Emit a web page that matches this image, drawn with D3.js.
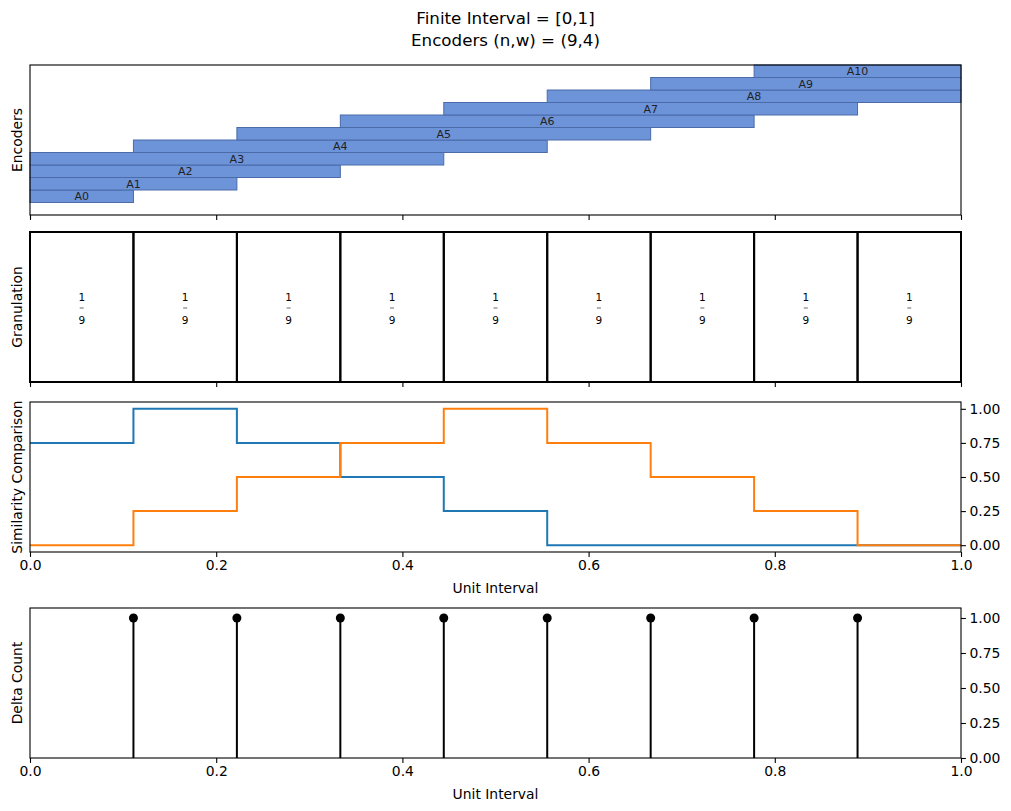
<!DOCTYPE html>
<html>
<head>
<meta charset="utf-8">
<script src="https://cdn.jsdelivr.net/npm/d3@7"></script>
<style>
  body { margin: 0; background: #fff; }
  svg text { font-family: "DejaVu Sans", sans-serif; fill: #000; }
  .axis path, .axis line { stroke: #000; stroke-width: 1.1; }
  .axis text { font-size: 13.9px; }
</style>
</head>
<body>
<div id="chart"></div>
<script>
// ---- data ----
var granuleCount = 9;
var encoderNames = ["A0", "A1", "A2", "A3", "A4", "A5", "A6", "A7", "A8", "A9", "A10"];
// start / end of each encoder, in granules
var encoderStart = [0, 0, 0, 0, 1, 2, 3, 4, 5, 6, 7];
var encoderEnd   = [1, 2, 3, 4, 5, 6, 7, 8, 9, 9, 9];

var granuleEdges = [0, 1, 2, 3, 4, 5, 6, 7, 8, 9];
var granuleNum = ["1", "1", "1", "1", "1", "1", "1", "1", "1"];
var granuleDen = ["9", "9", "9", "9", "9", "9", "9", "9", "9"];

// similarity per granule (step function)
var simBlue   = [0.75, 1.0, 0.75, 0.5, 0.25, 0, 0, 0, 0];
var simOrange = [0, 0.25, 0.5, 0.75, 1.0, 0.75, 0.5, 0.25, 0];

// delta counts at inner granule edges
var deltaEdges = [1, 2, 3, 4, 5, 6, 7, 8];
var deltaCount = [1, 1, 1, 1, 1, 1, 1, 1];

var xTicks = [0, 0.2, 0.4, 0.6, 0.8, 1.0];
var yTicks = [0, 0.25, 0.5, 0.75, 1.0];

// ---- layout ----
var W = 1011, H = 811;
var left = 30, right = 961;
var panels = [
  {top: 65,  bottom: 215},
  {top: 232, bottom: 382},
  {top: 402, bottom: 552},
  {top: 608, bottom: 758}
];

var svg = d3.select("#chart").append("svg")
  .attr("width", W).attr("height", H);

svg.append("text").attr("x", 505.5).attr("y", 24)
  .attr("text-anchor", "middle").style("font-size", "16.7px")
  .text("Finite Interval = [0,1]");
svg.append("text").attr("x", 505.5).attr("y", 46)
  .attr("text-anchor", "middle").style("font-size", "16.7px")
  .text("Encoders (n,w) = (9,4)");

var x = d3.scaleLinear().domain([0, 1]).range([left, right]);
function gx(g) { return x(g / granuleCount); }

function yLabel(text, p) {
  svg.append("text")
    .attr("transform", "translate(22," + ((p.top + p.bottom) / 2) + ") rotate(-90)")
    .attr("text-anchor", "middle")
    .style("font-size", "13.9px")
    .text(text);
}

function xAxis(p, labels) {
  var ax = d3.axisBottom(x).tickValues(xTicks).tickSize(4.9).tickPadding(3.5)
    .tickFormat(labels ? d3.format(".1f") : "");
  svg.append("g").attr("class", "axis")
    .attr("transform", "translate(0," + p.bottom + ")")
    .call(ax)
    .call(g => g.select(".domain").remove());
}

function frame(p, w) {
  svg.append("rect")
    .attr("x", left).attr("y", p.top)
    .attr("width", right - left).attr("height", p.bottom - p.top)
    .attr("fill", "none").attr("stroke", "#000").attr("stroke-width", w || 1.1);
}

// ---- panel 1: encoders ----
var p1 = panels[0];
var y1 = d3.scaleLinear().domain([-1.5, 10.5]).range([p1.bottom, p1.top]);
var enc = encoderNames.map(function(n, i) {
  return {name: n, s: encoderStart[i], e: encoderEnd[i], i: i};
});
svg.selectAll(".enc").data(enc).enter().append("rect")
  .attr("class", "enc")
  .attr("x", d => gx(d.s))
  .attr("y", d => y1(d.i + 0.5))
  .attr("width", d => gx(d.e) - gx(d.s))
  .attr("height", d => y1(d.i - 0.5) - y1(d.i + 0.5))
  .attr("fill", "#6d93d9")
  .attr("stroke", "#4b6ba8")
  .attr("stroke-width", 1);
svg.selectAll(".encLabel").data(enc).enter().append("text")
  .attr("class", "encLabel")
  .attr("x", d => (gx(d.s) + gx(d.e)) / 2)
  .attr("y", d => y1(d.i))
  .attr("dy", "0.36em")
  .attr("text-anchor", "middle")
  .style("font-size", "11px")
  .style("fill", "#222")
  .text(d => d.name);
frame(p1);
xAxis(p1, false);
yLabel("Encoders", p1);

// ---- panel 2: granulation ----
var p2 = panels[1];
var cells = granuleNum.map(function(n, i) {
  return {s: granuleEdges[i], e: granuleEdges[i + 1], num: n, den: granuleDen[i]};
});
svg.selectAll(".cell").data(cells).enter().append("rect")
  .attr("class", "cell")
  .attr("x", d => gx(d.s)).attr("y", p2.top)
  .attr("width", d => gx(d.e) - gx(d.s)).attr("height", p2.bottom - p2.top)
  .attr("fill", "none").attr("stroke", "#000").attr("stroke-width", 2);
var midY = (p2.top + p2.bottom) / 2;
var fr = svg.selectAll(".frac").data(cells).enter().append("g")
  .attr("class", "frac")
  .attr("transform", d => "translate(" + ((gx(d.s) + gx(d.e)) / 2) + "," + midY + ")");
fr.append("text").attr("y", -10).attr("dy", "0.36em").attr("text-anchor", "middle")
  .style("font-size", "10.5px").text(d => d.num);
fr.append("line").attr("x1", -2).attr("x2", 2).attr("y1", 1).attr("y2", 1)
  .attr("stroke", "#444").attr("stroke-width", 0.8);
fr.append("text").attr("y", 13).attr("dy", "0.36em").attr("text-anchor", "middle")
  .style("font-size", "10.5px").text(d => d.den);
xAxis(p2, false);
yLabel("Granulation", p2);

// ---- panel 3: similarity ----
var p3 = panels[2];
var y3 = d3.scaleLinear().domain([-0.05, 1.05]).range([p3.bottom, p3.top]);
function stepPts(vals) {
  var pts = vals.map((v, i) => [granuleEdges[i] / granuleCount, v]);
  pts.push([1, vals[vals.length - 1]]);
  return pts;
}
var stepLine = d3.line().x(d => x(d[0])).y(d => y3(d[1])).curve(d3.curveStepAfter);
svg.append("path").datum(stepPts(simBlue))
  .attr("d", stepLine).attr("fill", "none")
  .attr("stroke", "#1f77b4").attr("stroke-width", 2);
svg.append("path").datum(stepPts(simOrange))
  .attr("d", stepLine).attr("fill", "none")
  .attr("stroke", "#ff7f0e").attr("stroke-width", 2);
frame(p3);
xAxis(p3, true);
svg.append("g").attr("class", "axis")
  .attr("transform", "translate(" + right + ",0)")
  .call(d3.axisRight(y3).tickValues(yTicks).tickSize(4.9).tickPadding(3.5).tickFormat(d3.format(".2f")))
  .call(g => g.select(".domain").remove());
svg.append("text").attr("x", (left + right) / 2).attr("y", 593)
  .attr("text-anchor", "middle").style("font-size", "13.9px").text("Unit Interval");
yLabel("Similarity Comparison", p3);

// ---- panel 4: delta count ----
var p4 = panels[3];
var y4 = d3.scaleLinear().domain([0, 1.0714]).range([p4.bottom, p4.top]);
var stems = deltaEdges.map((g, i) => ({g: g, v: deltaCount[i]}));
svg.selectAll(".stem").data(stems).enter().append("line")
  .attr("class", "stem")
  .attr("x1", d => gx(d.g)).attr("x2", d => gx(d.g))
  .attr("y1", y4(0)).attr("y2", d => y4(d.v))
  .attr("stroke", "#000").attr("stroke-width", 2);
svg.selectAll(".head").data(stems).enter().append("circle")
  .attr("class", "head")
  .attr("cx", d => gx(d.g)).attr("cy", d => y4(d.v))
  .attr("r", 4.5).attr("fill", "#000");
frame(p4);
xAxis(p4, true);
svg.append("g").attr("class", "axis")
  .attr("transform", "translate(" + right + ",0)")
  .call(d3.axisRight(y4).tickValues(yTicks).tickSize(4.9).tickPadding(3.5).tickFormat(d3.format(".2f")))
  .call(g => g.select(".domain").remove());
svg.append("text").attr("x", (left + right) / 2).attr("y", 799)
  .attr("text-anchor", "middle").style("font-size", "13.9px").text("Unit Interval");
yLabel("Delta Count", p4);
</script>
</body>
</html>
